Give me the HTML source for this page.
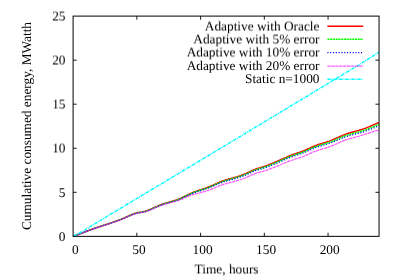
<!DOCTYPE html><html><head><title>Cumulative consumed energy</title><meta charset="utf-8"><style>
html,body{margin:0;padding:0;background:#fff;}
#c{position:relative;width:399px;height:279px;overflow:hidden;background:#fff;font-family:"Liberation Serif",serif;font-size:13.33px;color:#000;line-height:1;text-rendering:geometricPrecision;}
.ly{position:absolute;left:0;top:0;width:399px;height:279px;will-change:transform;}
.t{position:absolute;white-space:nowrap;line-height:1;}
.yl{text-align:right;width:40px;left:25.5px;}
.xl{text-align:center;width:40px;}
.lg{text-align:right;width:200px;left:119.5px;}
</style></head><body><div id="c">
<svg width="399" height="279" viewBox="0 0 399 279" style="position:absolute;left:0;top:0">
<g fill="none" stroke-linejoin="round">
<path d="M73.7,236.00 L75.0,235.57 L76.2,235.14 L77.5,234.71 L78.8,234.26 L80.1,233.77 L81.3,233.25 L82.6,232.75 L83.9,232.25 L85.1,231.77 L86.4,231.29 L87.7,230.82 L89.0,230.35 L90.2,229.89 L91.5,229.44 L92.8,228.99 L94.0,228.54 L95.3,228.10 L96.6,227.66 L97.9,227.22 L99.1,226.79 L100.4,226.37 L101.7,225.95 L102.9,225.53 L104.2,225.11 L105.5,224.69 L106.8,224.28 L108.0,223.86 L109.3,223.44 L110.6,223.02 L111.8,222.59 L113.1,222.16 L114.4,221.72 L115.7,221.27 L116.9,220.82 L118.2,220.35 L119.5,219.87 L120.8,219.37 L122.0,218.86 L123.3,218.33 L124.6,217.78 L125.8,217.21 L127.1,216.63 L128.4,216.05 L129.7,215.47 L130.9,214.92 L132.2,214.40 L133.5,213.92 L134.7,213.49 L136.0,213.13 L137.3,212.83 L138.6,212.58 L139.8,212.35 L141.1,212.12 L142.4,211.89 L143.6,211.62 L144.9,211.30 L146.2,210.92 L147.5,210.48 L148.7,209.99 L150.0,209.47 L151.3,208.92 L152.5,208.36 L153.8,207.78 L155.1,207.21 L156.4,206.65 L157.6,206.10 L158.9,205.55 L160.2,205.03 L161.4,204.53 L162.7,204.06 L164.0,203.63 L165.3,203.23 L166.5,202.86 L167.8,202.50 L169.1,202.15 L170.3,201.80 L171.6,201.44 L172.9,201.08 L174.2,200.70 L175.4,200.29 L176.7,199.87 L178.0,199.40 L179.2,198.90 L180.5,198.36 L181.8,197.78 L183.1,197.16 L184.3,196.53 L185.6,195.88 L186.9,195.24 L188.2,194.60 L189.4,193.99 L190.7,193.40 L192.0,192.85 L193.2,192.32 L194.5,191.83 L195.8,191.35 L197.1,190.90 L198.3,190.46 L199.6,190.03 L200.9,189.62 L202.1,189.20 L203.4,188.78 L204.7,188.36 L206.0,187.93 L207.2,187.47 L208.5,187.00 L209.8,186.50 L211.0,185.97 L212.3,185.41 L213.6,184.84 L214.9,184.26 L216.1,183.69 L217.4,183.12 L218.7,182.57 L219.9,182.04 L221.2,181.55 L222.5,181.08 L223.8,180.64 L225.0,180.23 L226.3,179.83 L227.6,179.45 L228.8,179.08 L230.1,178.72 L231.4,178.37 L232.7,178.01 L233.9,177.65 L235.2,177.28 L236.5,176.90 L237.7,176.51 L239.0,176.10 L240.3,175.67 L241.6,175.21 L242.8,174.73 L244.1,174.23 L245.4,173.69 L246.6,173.12 L247.9,172.54 L249.2,171.94 L250.5,171.34 L251.7,170.76 L253.0,170.19 L254.3,169.66 L255.5,169.17 L256.8,168.71 L258.1,168.29 L259.4,167.90 L260.6,167.51 L261.9,167.13 L263.2,166.75 L264.4,166.35 L265.7,165.92 L267.0,165.47 L268.3,164.99 L269.5,164.50 L270.8,163.98 L272.1,163.45 L273.4,162.90 L274.6,162.35 L275.9,161.79 L277.2,161.23 L278.4,160.66 L279.7,160.10 L281.0,159.53 L282.3,158.97 L283.5,158.41 L284.8,157.86 L286.1,157.32 L287.3,156.78 L288.6,156.26 L289.9,155.74 L291.2,155.24 L292.4,154.76 L293.7,154.29 L295.0,153.84 L296.2,153.40 L297.5,152.98 L298.8,152.56 L300.1,152.14 L301.3,151.70 L302.6,151.24 L303.9,150.75 L305.1,150.21 L306.4,149.64 L307.7,149.03 L309.0,148.42 L310.2,147.82 L311.5,147.25 L312.8,146.70 L314.0,146.18 L315.3,145.68 L316.6,145.21 L317.9,144.76 L319.1,144.33 L320.4,143.92 L321.7,143.53 L322.9,143.14 L324.2,142.76 L325.5,142.37 L326.8,141.97 L328.0,141.55 L329.3,141.11 L330.6,140.63 L331.8,140.13 L333.1,139.60 L334.4,139.05 L335.7,138.48 L336.9,137.91 L338.2,137.33 L339.5,136.76 L340.8,136.20 L342.0,135.65 L343.3,135.12 L344.6,134.62 L345.8,134.16 L347.1,133.72 L348.4,133.31 L349.7,132.92 L350.9,132.54 L352.2,132.18 L353.5,131.83 L354.7,131.48 L356.0,131.13 L357.3,130.79 L358.6,130.43 L359.8,130.06 L361.1,129.68 L362.4,129.28 L363.6,128.86 L364.9,128.41 L366.2,127.93 L367.5,127.41 L368.7,126.88 L370.0,126.33 L371.3,125.77 L372.5,125.21 L373.8,124.65 L375.1,124.11 L376.4,123.58 L377.6,123.08 L378.9,122.61" stroke="#ff0000" stroke-width="1.5"/>
<path d="M73.7,236.00 L75.0,235.57 L76.2,235.15 L77.5,234.72 L78.8,234.27 L80.1,233.78 L81.3,233.26 L82.6,232.76 L83.9,232.27 L85.1,231.78 L86.4,231.31 L87.7,230.84 L89.0,230.38 L90.2,229.92 L91.5,229.47 L92.8,229.02 L94.0,228.57 L95.3,228.13 L96.6,227.70 L97.9,227.27 L99.1,226.84 L100.4,226.42 L101.7,226.00 L102.9,225.58 L104.2,225.17 L105.5,224.75 L106.8,224.34 L108.0,223.93 L109.3,223.51 L110.6,223.09 L111.8,222.67 L113.1,222.24 L114.4,221.81 L115.7,221.36 L116.9,220.91 L118.2,220.45 L119.5,219.97 L120.8,219.48 L122.0,218.97 L123.3,218.44 L124.6,217.90 L125.8,217.33 L127.1,216.76 L128.4,216.18 L129.7,215.61 L130.9,215.05 L132.2,214.54 L133.5,214.06 L134.7,213.64 L136.0,213.28 L137.3,212.99 L138.6,212.74 L139.8,212.51 L141.1,212.29 L142.4,212.06 L143.6,211.79 L144.9,211.48 L146.2,211.10 L147.5,210.67 L148.7,210.19 L150.0,209.67 L151.3,209.13 L152.5,208.56 L153.8,208.00 L155.1,207.43 L156.4,206.87 L157.6,206.33 L158.9,205.79 L160.2,205.27 L161.4,204.77 L162.7,204.31 L164.0,203.89 L165.3,203.50 L166.5,203.13 L167.8,202.78 L169.1,202.43 L170.3,202.09 L171.6,201.74 L172.9,201.38 L174.2,201.01 L175.4,200.61 L176.7,200.19 L178.0,199.73 L179.2,199.24 L180.5,198.70 L181.8,198.12 L183.1,197.52 L184.3,196.89 L185.6,196.25 L186.9,195.61 L188.2,194.99 L189.4,194.38 L190.7,193.80 L192.0,193.25 L193.2,192.73 L194.5,192.24 L195.8,191.78 L197.1,191.33 L198.3,190.90 L199.6,190.48 L200.9,190.07 L202.1,189.66 L203.4,189.25 L204.7,188.83 L206.0,188.40 L207.2,187.96 L208.5,187.49 L209.8,186.99 L211.0,186.47 L212.3,185.92 L213.6,185.35 L214.9,184.78 L216.1,184.21 L217.4,183.65 L218.7,183.10 L219.9,182.58 L221.2,182.09 L222.5,181.64 L223.8,181.20 L225.0,180.79 L226.3,180.41 L227.6,180.03 L228.8,179.67 L230.1,179.31 L231.4,178.96 L232.7,178.61 L233.9,178.26 L235.2,177.89 L236.5,177.52 L237.7,177.13 L239.0,176.73 L240.3,176.30 L241.6,175.86 L242.8,175.38 L244.1,174.88 L245.4,174.35 L246.6,173.79 L247.9,173.21 L249.2,172.62 L250.5,172.03 L251.7,171.45 L253.0,170.89 L254.3,170.36 L255.5,169.88 L256.8,169.43 L258.1,169.02 L259.4,168.62 L260.6,168.25 L261.9,167.87 L263.2,167.50 L264.4,167.10 L265.7,166.68 L267.0,166.24 L268.3,165.77 L269.5,165.28 L270.8,164.77 L272.1,164.24 L273.4,163.71 L274.6,163.16 L275.9,162.61 L277.2,162.05 L278.4,161.49 L279.7,160.94 L281.0,160.38 L282.3,159.82 L283.5,159.27 L284.8,158.73 L286.1,158.19 L287.3,157.66 L288.6,157.15 L289.9,156.64 L291.2,156.15 L292.4,155.67 L293.7,155.21 L295.0,154.77 L296.2,154.34 L297.5,153.93 L298.8,153.52 L300.1,153.10 L301.3,152.68 L302.6,152.22 L303.9,151.74 L305.1,151.21 L306.4,150.65 L307.7,150.05 L309.0,149.45 L310.2,148.86 L311.5,148.29 L312.8,147.76 L314.0,147.25 L315.3,146.76 L316.6,146.30 L317.9,145.86 L319.1,145.45 L320.4,145.05 L321.7,144.66 L322.9,144.29 L324.2,143.92 L325.5,143.54 L326.8,143.15 L328.0,142.74 L329.3,142.31 L330.6,141.85 L331.8,141.36 L333.1,140.84 L334.4,140.31 L335.7,139.75 L336.9,139.19 L338.2,138.63 L339.5,138.07 L340.8,137.53 L342.0,136.99 L343.3,136.48 L344.6,136.00 L345.8,135.55 L347.1,135.12 L348.4,134.73 L349.7,134.35 L350.9,133.99 L352.2,133.65 L353.5,133.31 L354.7,132.98 L356.0,132.65 L357.3,132.32 L358.6,131.98 L359.8,131.63 L361.1,131.27 L362.4,130.89 L363.6,130.49 L364.9,130.06 L366.2,129.60 L367.5,129.11 L368.7,128.60 L370.0,128.07 L371.3,127.53 L372.5,126.99 L373.8,126.46 L375.1,125.94 L376.4,125.43 L377.6,124.95 L378.9,124.51" stroke="#00ff00" stroke-width="1.5" stroke-dasharray="2.1 0.65"/>
<path d="M73.7,236.00 L75.0,235.57 L76.2,235.15 L77.5,234.72 L78.8,234.28 L80.1,233.78 L81.3,233.27 L82.6,232.77 L83.9,232.28 L85.1,231.80 L86.4,231.33 L87.7,230.86 L89.0,230.40 L90.2,229.95 L91.5,229.50 L92.8,229.05 L94.0,228.61 L95.3,228.17 L96.6,227.74 L97.9,227.31 L99.1,226.88 L100.4,226.47 L101.7,226.05 L102.9,225.64 L104.2,225.23 L105.5,224.82 L106.8,224.41 L108.0,224.00 L109.3,223.59 L110.6,223.17 L111.8,222.75 L113.1,222.32 L114.4,221.89 L115.7,221.45 L116.9,221.00 L118.2,220.54 L119.5,220.07 L120.8,219.58 L122.0,219.08 L123.3,218.55 L124.6,218.01 L125.8,217.45 L127.1,216.88 L128.4,216.30 L129.7,215.74 L130.9,215.19 L132.2,214.68 L133.5,214.20 L134.7,213.79 L136.0,213.44 L137.3,213.15 L138.6,212.90 L139.8,212.68 L141.1,212.46 L142.4,212.23 L143.6,211.97 L144.9,211.66 L146.2,211.29 L147.5,210.86 L148.7,210.38 L150.0,209.87 L151.3,209.33 L152.5,208.77 L153.8,208.21 L155.1,207.65 L156.4,207.09 L157.6,206.56 L158.9,206.02 L160.2,205.51 L161.4,205.02 L162.7,204.56 L164.0,204.14 L165.3,203.76 L166.5,203.40 L167.8,203.05 L169.1,202.71 L170.3,202.38 L171.6,202.03 L172.9,201.68 L174.2,201.31 L175.4,200.92 L176.7,200.51 L178.0,200.06 L179.2,199.57 L180.5,199.04 L181.8,198.47 L183.1,197.87 L184.3,197.25 L185.6,196.62 L186.9,195.99 L188.2,195.37 L189.4,194.77 L190.7,194.19 L192.0,193.65 L193.2,193.14 L194.5,192.66 L195.8,192.20 L197.1,191.76 L198.3,191.33 L199.6,190.92 L200.9,190.52 L202.1,190.11 L203.4,189.71 L204.7,189.30 L206.0,188.88 L207.2,188.44 L208.5,187.98 L209.8,187.50 L211.0,186.98 L212.3,186.44 L213.6,185.88 L214.9,185.32 L216.1,184.76 L217.4,184.20 L218.7,183.66 L219.9,183.15 L221.2,182.67 L222.5,182.22 L223.8,181.80 L225.0,181.40 L226.3,181.02 L227.6,180.65 L228.8,180.30 L230.1,179.95 L231.4,179.61 L232.7,179.27 L233.9,178.92 L235.2,178.57 L236.5,178.20 L237.7,177.82 L239.0,177.43 L240.3,177.01 L241.6,176.57 L242.8,176.11 L244.1,175.61 L245.4,175.09 L246.6,174.54 L247.9,173.96 L249.2,173.38 L250.5,172.80 L251.7,172.22 L253.0,171.67 L254.3,171.15 L255.5,170.67 L256.8,170.22 L258.1,169.82 L259.4,169.43 L260.6,169.06 L261.9,168.69 L263.2,168.31 L264.4,167.92 L265.7,167.51 L267.0,167.06 L268.3,166.60 L269.5,166.11 L270.8,165.60 L272.1,165.08 L273.4,164.54 L274.6,164.00 L275.9,163.45 L277.2,162.90 L278.4,162.34 L279.7,161.78 L281.0,161.23 L282.3,160.67 L283.5,160.13 L284.8,159.58 L286.1,159.05 L287.3,158.52 L288.6,158.00 L289.9,157.50 L291.2,157.01 L292.4,156.53 L293.7,156.08 L295.0,155.64 L296.2,155.21 L297.5,154.81 L298.8,154.40 L300.1,153.99 L301.3,153.56 L302.6,153.11 L303.9,152.63 L305.1,152.11 L306.4,151.55 L307.7,150.96 L309.0,150.37 L310.2,149.78 L311.5,149.23 L312.8,148.70 L314.0,148.20 L315.3,147.72 L316.6,147.27 L317.9,146.84 L319.1,146.43 L320.4,146.05 L321.7,145.67 L322.9,145.31 L324.2,144.95 L325.5,144.58 L326.8,144.20 L328.0,143.81 L329.3,143.39 L330.6,142.94 L331.8,142.46 L333.1,141.96 L334.4,141.43 L335.7,140.89 L336.9,140.34 L338.2,139.80 L339.5,139.25 L340.8,138.71 L342.0,138.19 L343.3,137.69 L344.6,137.22 L345.8,136.78 L347.1,136.37 L348.4,135.98 L349.7,135.61 L350.9,135.27 L352.2,134.93 L353.5,134.60 L354.7,134.28 L356.0,133.96 L357.3,133.64 L358.6,133.30 L359.8,132.96 L361.1,132.61 L362.4,132.23 L363.6,131.84 L364.9,131.41 L366.2,130.96 L367.5,130.47 L368.7,129.96 L370.0,129.44 L371.3,128.91 L372.5,128.38 L373.8,127.85 L375.1,127.33 L376.4,126.83 L377.6,126.35 L378.9,125.91" stroke="#0000ff" stroke-width="1.3" stroke-dasharray="1.1 1.7"/>
<path d="M73.7,236.00 L75.0,235.58 L76.2,235.16 L77.5,234.74 L78.8,234.30 L80.1,233.82 L81.3,233.31 L82.6,232.82 L83.9,232.33 L85.1,231.86 L86.4,231.39 L87.7,230.93 L89.0,230.47 L90.2,230.02 L91.5,229.58 L92.8,229.14 L94.0,228.70 L95.3,228.27 L96.6,227.84 L97.9,227.41 L99.1,226.99 L100.4,226.58 L101.7,226.17 L102.9,225.76 L104.2,225.35 L105.5,224.94 L106.8,224.54 L108.0,224.13 L109.3,223.72 L110.6,223.31 L111.8,222.89 L113.1,222.47 L114.4,222.04 L115.7,221.60 L116.9,221.16 L118.2,220.70 L119.5,220.22 L120.8,219.74 L122.0,219.23 L123.3,218.71 L124.6,218.17 L125.8,217.62 L127.1,217.04 L128.4,216.47 L129.7,215.90 L130.9,215.36 L132.2,214.84 L133.5,214.37 L134.7,213.96 L136.0,213.61 L137.3,213.32 L138.6,213.07 L139.8,212.85 L141.1,212.64 L142.4,212.41 L143.6,212.15 L144.9,211.85 L146.2,211.48 L147.5,211.05 L148.7,210.58 L150.0,210.07 L151.3,209.54 L152.5,208.98 L153.8,208.42 L155.1,207.86 L156.4,207.32 L157.6,206.78 L158.9,206.25 L160.2,205.74 L161.4,205.26 L162.7,204.81 L164.0,204.40 L165.3,204.02 L166.5,203.67 L167.8,203.33 L169.1,203.00 L170.3,202.68 L171.6,202.35 L172.9,202.01 L174.2,201.66 L175.4,201.29 L176.7,200.91 L178.0,200.50 L179.2,200.07 L180.5,199.60 L181.8,199.10 L183.1,198.57 L184.3,198.04 L185.6,197.49 L186.9,196.94 L188.2,196.40 L189.4,195.89 L190.7,195.43 L192.0,195.00 L193.2,194.62 L194.5,194.26 L195.8,193.92 L197.1,193.59 L198.3,193.27 L199.6,192.95 L200.9,192.62 L202.1,192.27 L203.4,191.92 L204.7,191.55 L206.0,191.17 L207.2,190.77 L208.5,190.34 L209.8,189.89 L211.0,189.40 L212.3,188.88 L213.6,188.34 L214.9,187.80 L216.1,187.25 L217.4,186.72 L218.7,186.20 L219.9,185.70 L221.2,185.23 L222.5,184.79 L223.8,184.38 L225.0,183.99 L226.3,183.62 L227.6,183.26 L228.8,182.92 L230.1,182.58 L231.4,182.25 L232.7,181.91 L233.9,181.57 L235.2,181.22 L236.5,180.86 L237.7,180.49 L239.0,180.10 L240.3,179.69 L241.6,179.26 L242.8,178.80 L244.1,178.32 L245.4,177.80 L246.6,177.25 L247.9,176.69 L249.2,176.12 L250.5,175.54 L251.7,174.98 L253.0,174.44 L254.3,173.93 L255.5,173.47 L256.8,173.04 L258.1,172.65 L259.4,172.28 L260.6,171.93 L261.9,171.58 L263.2,171.23 L264.4,170.86 L265.7,170.47 L267.0,170.05 L268.3,169.61 L269.5,169.15 L270.8,168.67 L272.1,168.17 L273.4,167.67 L274.6,167.15 L275.9,166.63 L277.2,166.10 L278.4,165.57 L279.7,165.04 L281.0,164.51 L282.3,163.99 L283.5,163.46 L284.8,162.95 L286.1,162.44 L287.3,161.93 L288.6,161.44 L289.9,160.96 L291.2,160.49 L292.4,160.03 L293.7,159.59 L295.0,159.17 L296.2,158.76 L297.5,158.37 L298.8,157.97 L300.1,157.57 L301.3,157.15 L302.6,156.71 L303.9,156.23 L305.1,155.71 L306.4,155.15 L307.7,154.56 L309.0,153.96 L310.2,153.38 L311.5,152.82 L312.8,152.28 L314.0,151.78 L315.3,151.30 L316.6,150.84 L317.9,150.40 L319.1,149.99 L320.4,149.59 L321.7,149.21 L322.9,148.83 L324.2,148.46 L325.5,148.08 L326.8,147.69 L328.0,147.28 L329.3,146.85 L330.6,146.38 L331.8,145.89 L333.1,145.36 L334.4,144.82 L335.7,144.26 L336.9,143.69 L338.2,143.12 L339.5,142.55 L340.8,141.99 L342.0,141.45 L343.3,140.92 L344.6,140.42 L345.8,139.96 L347.1,139.52 L348.4,139.11 L349.7,138.72 L350.9,138.34 L352.2,137.98 L353.5,137.63 L354.7,137.28 L356.0,136.93 L357.3,136.59 L358.6,136.23 L359.8,135.86 L361.1,135.49 L362.4,135.12 L363.6,134.74 L364.9,134.36 L366.2,133.96 L367.5,133.54 L368.7,133.11 L370.0,132.68 L371.3,132.25 L372.5,131.83 L373.8,131.42 L375.1,131.02 L376.4,130.65 L377.6,130.31 L378.9,130.01" stroke="#ff00ff" stroke-width="1.25" stroke-dasharray="3.3 0.6" stroke-opacity="0.66"/>
<path d="M73.7,236.00 L78.8,233.40 L83.9,230.41 L89.0,227.36 L94.0,224.29 L99.1,221.22 L104.2,218.13 L109.3,215.06 L114.4,212.00 L119.5,208.94 L124.6,205.88 L129.7,202.82 L134.7,199.76 L139.8,196.71 L144.9,193.65 L150.0,190.60 L155.1,187.54 L160.2,184.49 L165.3,181.43 L170.3,178.38 L175.4,175.32 L180.5,172.27 L185.6,169.22 L190.7,166.16 L195.8,163.11 L200.9,160.05 L206.0,157.00 L211.0,153.94 L216.1,150.89 L221.2,147.83 L226.3,144.77 L231.4,141.71 L236.5,138.65 L241.6,135.59 L246.6,132.52 L251.7,129.46 L256.8,126.40 L261.9,123.34 L267.0,120.27 L272.1,117.21 L277.2,114.15 L282.3,111.09 L287.3,108.02 L292.4,104.96 L297.5,101.90 L302.6,98.84 L307.7,95.77 L312.8,92.71 L317.9,89.65 L322.9,86.59 L328.0,83.52 L333.1,80.46 L338.2,77.40 L343.3,74.34 L348.4,71.27 L353.5,68.21 L358.6,65.13 L363.6,61.96 L368.7,58.75 L373.8,55.52 L378.9,52.25" stroke="#00ffff" stroke-width="1.5" stroke-dasharray="3.3 0.9 0.9 0.9"/>
</g>
<g fill="none">
<path d="M327.4,26.2 L363.2,26.2" stroke="#ff0000" stroke-width="1.5"/>
<path d="M327.4,39.3 L363.2,39.3" stroke="#00ff00" stroke-width="1.5" stroke-dasharray="2.1 0.65"/>
<path d="M327.4,52.6 L363.2,52.6" stroke="#0000ff" stroke-width="1.3" stroke-dasharray="1.1 1.7"/>
<path d="M327.4,66.0 L363.2,66.0" stroke="#ff00ff" stroke-width="1.25" stroke-dasharray="3.3 0.6" stroke-opacity="0.66"/>
<path d="M327.4,79.2 L363.2,79.2" stroke="#00ffff" stroke-width="1.5" stroke-dasharray="3.3 0.9 0.9 0.9"/>
</g>
<g fill="none" stroke="#000" stroke-width="1">
<rect x="73.10" y="16.10" width="305.95" height="220.25"/>
<path d="M136.84,236.35 v-3.6 M136.84,16.10 v3.6 M200.58,236.35 v-3.6 M200.58,16.10 v3.6 M264.32,236.35 v-3.6 M264.32,16.10 v3.6 M328.06,236.35 v-3.6 M328.06,16.10 v3.6 M73.10,192.30 h3.6 M379.05,192.30 h-3.6 M73.10,148.25 h3.6 M379.05,148.25 h-3.6 M73.10,104.20 h3.6 M379.05,104.20 h-3.6 M73.10,60.15 h3.6 M379.05,60.15 h-3.6" stroke-width="0.9"/>
</g>
</svg>
<div class="ly"><div class="t yl" style="top:230px">0</div>
<div class="t yl" style="top:186px">5</div>
<div class="t xl" style="left:55.4px;top:243px">0</div>
<div class="t xl" style="left:119.0px;top:243px">50</div>
<div class="t xl" style="left:182.6px;top:243px">100</div>
<div class="t xl" style="left:246.1px;top:243px">150</div>
<div class="t xl" style="left:309.7px;top:243px">200</div>
<div class="t" style="left:31px;top:126.3px;width:300px;margin-left:-150px;text-align:center;transform-origin:50% 11.16px;transform:translateY(-11.16px) rotate(-90deg)">Cumulative consumed energy, MWatth</div>
<div class="t lg" style="top:59px">Adaptive with 20% error</div>
<div class="t lg" style="top:72px">Static n=1000</div></div>
<div class="ly" style="transform:translateY(0.5px) rotate(0.005deg)"><div class="t yl" style="top:141px">10</div>
<div class="t yl" style="top:97px">15</div>
<div class="t yl" style="top:53px">20</div>
<div class="t yl" style="top:9px">25</div>
<div class="t" style="left:226.6px;top:262px;width:200px;margin-left:-100px;text-align:center">Time, hours</div>
<div class="t lg" style="top:19px">Adaptive with Oracle</div>
<div class="t lg" style="top:32px">Adaptive with 5% error</div>
<div class="t lg" style="top:45px">Adaptive with 10% error</div></div>
</div></body></html>
